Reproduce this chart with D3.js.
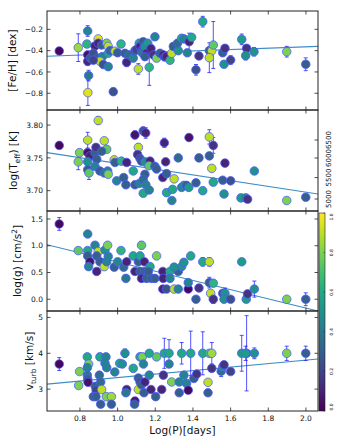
<!DOCTYPE html>
<html><head><meta charset="utf-8">
<script src="https://cdn.jsdelivr.net/npm/d3@7"></script>
<style>body{margin:0;background:#fff}svg{display:block;font-family:"DejaVu Sans",sans-serif}</style>
</head><body><svg id="c" width="340" height="445"></svg>
<script>
// rows: [logP, value, error, colour value 0..1]
const fehData = [
[0.690,-0.403,0.03,0.02],[0.791,-0.372,0.13,0.85],[0.841,-0.216,0.05,0.45],[0.837,-0.338,0.03,0.65],
[0.841,-0.440,0.03,0.05],[0.841,-0.500,0.04,0.10],[0.846,-0.634,0.05,0.40],[0.842,-0.794,0.12,0.95],
[0.855,-0.470,0.03,0.30],[0.897,-0.290,0.03,0.95],[0.880,-0.356,0.03,0.10],[0.897,-0.330,0.03,0.10],
[0.915,-0.347,0.03,0.30],[0.942,-0.330,0.03,0.80],[0.950,-0.360,0.03,0.90],[0.871,-0.425,0.03,0.25],
[0.894,-0.470,0.03,0.30],[0.919,-0.456,0.03,0.45],[0.906,-0.500,0.03,0.90],[0.924,-0.530,0.03,0.25],
[0.950,-0.550,0.03,0.45],[0.871,-0.490,0.03,0.20],[0.950,-0.425,0.03,0.60],[0.960,-0.400,0.03,0.35],
[0.986,-0.405,0.03,0.90],[0.977,-0.785,0.03,0.25],[1.000,-0.420,0.03,0.30],[1.018,-0.338,0.03,0.65],
[1.039,-0.425,0.03,0.30],[1.048,-0.510,0.04,0.10],[1.060,-0.440,0.03,0.35],[1.083,-0.470,0.03,0.45],
[1.092,-0.400,0.03,0.30],[1.100,-0.390,0.04,0.20],[1.110,-0.572,0.05,0.90],[1.115,-0.330,0.03,0.60],
[1.120,-0.360,0.04,0.10],[1.136,-0.316,0.03,0.30],[1.127,-0.400,0.03,0.25],[1.130,-0.420,0.03,0.40],
[1.145,-0.360,0.03,0.50],[1.154,-0.425,0.03,0.10],[1.145,-0.456,0.03,0.30],[1.168,-0.556,0.17,0.65],
[1.160,-0.330,0.03,0.55],[1.177,-0.380,0.03,0.10],[1.190,-0.440,0.03,0.15],[1.198,-0.270,0.03,0.45],
[1.207,-0.470,0.03,0.80],[1.225,-0.425,0.03,0.30],[1.242,-0.440,0.03,0.10],[1.250,-0.460,0.03,0.20],
[1.260,-0.456,0.03,0.10],[1.278,-0.490,0.03,0.65],[1.287,-0.425,0.03,0.90],[1.296,-0.360,0.03,0.30],
[1.322,-0.400,0.03,0.50],[1.318,-0.330,0.03,0.35],[1.340,-0.284,0.03,0.60],[1.352,-0.290,0.03,0.45],
[1.380,-0.316,0.08,0.10],[1.393,-0.275,0.03,0.60],[1.370,-0.420,0.03,0.45],[1.452,-0.128,0.05,0.60],
[1.432,-0.450,0.03,0.15],[1.416,-0.580,0.05,0.25],[1.487,-0.400,0.03,0.30],[1.500,-0.400,0.03,0.90],
[1.508,-0.347,0.22,0.75],[1.487,-0.466,0.14,0.90],[1.558,-0.420,0.03,0.30],[1.570,-0.378,0.03,0.15],
[1.565,-0.528,0.03,0.50],[1.600,-0.488,0.04,0.20],[1.659,-0.294,0.05,0.55],[1.685,-0.378,0.03,0.15],
[1.680,-0.447,0.04,0.50],[1.724,-0.410,0.04,0.50],[1.898,-0.410,0.05,0.80],[1.999,-0.528,0.06,0.30]
];
const teffData = [
[0.690,3.769,0.003,0.02],[0.798,3.758,0.004,0.80],[0.791,3.744,0.012,0.80],[0.841,3.777,0.012,0.90],
[0.841,3.758,0.004,0.05],[0.853,3.753,0.004,0.10],[0.841,3.744,0.004,0.50],[0.841,3.732,0.004,0.30],
[0.848,3.727,0.010,0.75],[0.880,3.758,0.004,0.30],[0.885,3.766,0.004,0.15],[0.897,3.807,0.006,0.90],
[0.929,3.776,0.005,0.90],[0.942,3.763,0.004,0.75],[0.915,3.760,0.004,0.30],[0.889,3.748,0.004,0.30],
[0.880,3.737,0.004,0.45],[0.906,3.730,0.004,0.30],[0.929,3.727,0.004,0.40],[0.947,3.730,0.004,0.45],
[0.950,3.725,0.004,0.80],[0.982,3.747,0.004,0.90],[0.986,3.743,0.004,0.30],[1.020,3.745,0.004,0.65],
[1.048,3.743,0.004,0.10],[0.995,3.715,0.004,0.45],[1.032,3.720,0.004,0.30],[1.044,3.709,0.004,0.30],
[1.083,3.730,0.004,0.60],[1.092,3.785,0.006,0.05],[1.136,3.791,0.006,0.25],[1.149,3.788,0.008,0.10],
[1.110,3.766,0.006,0.90],[1.106,3.755,0.004,0.15],[1.119,3.749,0.004,0.25],[1.127,3.745,0.004,0.25],
[1.145,3.744,0.004,0.50],[1.172,3.745,0.004,0.10],[1.166,3.738,0.004,0.75],[1.145,3.725,0.004,0.30],
[1.198,3.737,0.004,0.30],[1.207,3.733,0.004,0.30],[1.092,3.709,0.004,0.30],[1.115,3.711,0.004,0.45],
[1.136,3.717,0.004,0.35],[1.150,3.709,0.004,0.45],[1.136,3.696,0.004,0.60],[1.168,3.701,0.004,0.45],
[1.240,3.720,0.004,0.10],[1.248,3.773,0.007,0.10],[1.255,3.744,0.004,0.10],[1.260,3.726,0.004,0.30],
[1.300,3.718,0.004,0.90],[1.260,3.697,0.004,0.60],[1.292,3.702,0.004,0.60],[1.288,3.685,0.004,0.45],
[1.322,3.750,0.004,0.35],[1.340,3.705,0.004,0.45],[1.352,3.708,0.004,0.50],[1.366,3.708,0.004,0.30],
[1.378,3.705,0.005,0.55],[1.379,3.781,0.005,0.05],[1.416,3.712,0.004,0.30],[1.432,3.750,0.004,0.30],
[1.452,3.700,0.004,0.60],[1.487,3.753,0.004,0.30],[1.487,3.782,0.011,0.90],[1.508,3.769,0.012,0.15],
[1.500,3.734,0.005,0.90],[1.570,3.742,0.004,0.10],[1.508,3.713,0.004,0.60],[1.558,3.716,0.004,0.30],
[1.600,3.715,0.004,0.25],[1.726,3.730,0.004,0.50],[1.565,3.695,0.004,0.50],[1.655,3.689,0.005,0.55],
[1.680,3.689,0.004,0.45],[1.690,3.687,0.004,0.15],[1.898,3.685,0.005,0.80],[1.999,3.690,0.004,0.30]
];
const loggData = [
[0.690,1.408,0.12,0.02],[0.791,0.910,0.06,0.75],[0.841,1.220,0.05,0.45],[0.841,0.910,0.05,0.60],
[0.841,0.810,0.05,0.30],[0.853,0.700,0.05,0.05],[0.846,0.610,0.05,0.45],[0.880,1.010,0.05,0.45],
[0.897,0.890,0.05,0.90],[0.889,0.810,0.05,0.30],[0.906,0.700,0.05,0.30],[0.929,0.610,0.07,0.90],
[0.889,0.520,0.06,0.10],[0.933,0.920,0.05,0.50],[0.947,1.010,0.05,0.80],[0.950,0.800,0.05,0.45],
[0.942,0.700,0.05,0.45],[0.982,0.600,0.05,0.30],[1.000,0.700,0.05,0.45],[1.018,0.910,0.05,0.65],
[1.032,0.600,0.05,0.35],[1.048,0.700,0.05,0.10],[1.044,0.390,0.05,0.40],[1.083,0.810,0.05,0.60],
[1.092,0.520,0.05,0.10],[1.110,0.700,0.05,0.30],[1.127,1.010,0.07,0.75],[1.119,0.810,0.05,0.60],
[1.142,0.700,0.05,0.10],[1.119,0.520,0.06,0.30],[1.145,0.520,0.06,0.30],[1.172,0.610,0.05,0.60],
[1.127,0.390,0.06,0.10],[1.154,0.390,0.06,0.30],[1.180,0.390,0.06,0.30],[1.163,0.520,0.05,0.30],
[1.207,0.810,0.05,0.80],[1.198,0.390,0.05,0.30],[1.240,0.520,0.05,0.10],[1.242,0.390,0.06,0.10],
[1.278,0.520,0.05,0.60],[1.278,0.390,0.05,0.45],[1.240,0.190,0.05,0.10],[1.260,0.190,0.05,0.25],
[1.300,0.190,0.05,0.90],[1.322,0.190,0.05,0.45],[1.322,0.520,0.05,0.30],[1.300,0.600,0.05,0.50],
[1.340,0.610,0.05,0.50],[1.352,0.690,0.05,0.50],[1.388,0.810,0.06,0.60],[1.452,0.700,0.08,0.60],
[1.487,0.700,0.08,0.90],[1.659,0.700,0.05,0.55],[1.375,0.190,0.05,0.02],[1.432,0.210,0.05,0.15],
[1.416,0.000,0.05,0.30],[1.375,0.310,0.05,0.45],[1.487,0.310,0.10,0.30],[1.508,0.300,0.05,0.65],
[1.494,0.110,0.06,0.90],[1.508,0.000,0.08,0.15],[1.558,0.110,0.05,0.30],[1.570,0.110,0.10,0.50],
[1.565,0.000,0.05,0.50],[1.600,0.000,0.05,0.25],[1.683,0.000,0.05,0.55],[1.690,0.100,0.05,0.15],
[1.726,0.190,0.15,0.50],[1.898,0.000,0.05,0.80],[1.999,0.000,0.12,0.30]
];
const vturbData = [
[0.690,3.70,0.18,0.02],[0.798,3.49,0.05,0.80],[0.793,3.10,0.05,0.80],[0.839,3.90,0.06,0.60],
[0.846,3.70,0.06,0.80],[0.839,3.60,0.05,0.45],[0.839,3.39,0.05,0.40],[0.841,3.28,0.05,0.30],
[0.843,3.19,0.05,0.05],[0.881,3.08,0.05,0.30],[0.886,2.97,0.05,0.20],[0.871,2.79,0.05,0.30],
[0.885,2.79,0.05,0.30],[0.906,3.90,0.10,0.60],[0.938,3.90,0.06,0.45],[0.933,3.72,0.05,0.45],
[0.942,3.60,0.05,0.45],[0.903,3.39,0.05,0.35],[0.910,3.20,0.05,0.35],[0.915,2.99,0.05,0.90],
[0.910,2.58,0.05,0.30],[0.940,2.79,0.05,0.80],[0.967,2.79,0.05,0.85],[0.967,2.58,0.05,0.30],
[0.985,3.48,0.05,0.45],[1.011,3.72,0.05,0.60],[1.039,4.00,0.12,0.50],[1.025,3.70,0.05,0.50],
[1.048,2.99,0.05,0.10],[1.044,2.90,0.05,0.40],[1.083,3.58,0.05,0.60],[1.092,2.67,0.05,0.05],
[1.090,2.58,0.05,0.30],[1.119,3.90,0.10,0.60],[1.131,3.90,0.10,0.80],[1.110,3.31,0.05,0.30],
[1.119,3.20,0.05,0.25],[1.110,2.99,0.05,0.90],[1.127,3.12,0.05,0.30],[1.137,3.70,0.05,0.45],
[1.140,2.90,0.05,0.30],[1.145,3.20,0.05,0.10],[1.168,4.00,0.06,0.60],[1.168,3.39,0.05,0.45],
[1.177,2.99,0.05,0.10],[1.207,3.90,0.06,0.75],[1.202,2.79,0.05,0.30],[1.234,2.99,0.05,0.10],
[1.248,4.00,0.42,0.60],[1.243,3.39,0.05,0.15],[1.273,4.00,0.38,0.60],[1.273,3.70,0.05,0.45],
[1.287,3.20,0.05,0.80],[1.327,3.20,0.05,0.45],[1.340,4.00,0.30,0.60],[1.327,2.90,0.05,0.30],
[1.352,3.39,0.05,0.45],[1.366,3.16,0.05,0.45],[1.375,2.97,0.05,0.02],[1.388,4.00,0.62,0.60],
[1.405,3.30,0.05,0.30],[1.420,3.42,0.05,0.15],[1.452,4.00,0.60,0.60],[1.487,4.00,0.05,0.70],
[1.500,4.00,0.30,0.85],[1.480,2.90,0.05,0.30],[1.480,3.19,0.05,0.90],[1.500,3.58,0.05,0.15],
[1.550,3.50,0.15,0.35],[1.558,3.62,0.05,0.50],[1.565,3.68,0.05,0.15],[1.600,3.49,0.05,0.20],
[1.659,4.00,0.50,0.55],[1.685,4.00,1.05,0.20],[1.680,4.00,0.20,0.55],[1.726,4.00,0.15,0.50],
[1.898,4.00,0.20,0.80],[1.999,4.00,0.20,0.30]
];
const fitLogP = [0.625, 2.064];
const fehFit = [-0.452, -0.360];
const teffFit = [3.758, 3.695];
const loggFit = [1.02, -0.22];
const vturbFit = [3.14, 3.84];
const xTicks = [0.8, 1.0, 1.2, 1.4, 1.6, 1.8, 2.0];
const fehTicks = [-0.8, -0.6, -0.4, -0.2];
const teffTicks = [3.70, 3.75, 3.80];
const loggTicks = [0.0, 0.5, 1.0, 1.5];
const vturbTicks = [3, 4, 5];
const teffKTicks = [5000, 5500, 6000, 6500];
const cbarTicks = [0, 0.2, 0.4, 0.6, 0.8, 1.0];

const svg = d3.select("#c");
const L = 47, R = 318;
const x = d3.scaleLinear().domain([0.625, 2.064]).range([L, R]);
const color = d3.interpolateViridis;

const panels = [
  {data: fehData, fit: fehFit, dom: [-0.957, -0.028], top: 11, bot: 110, ticks: fehTicks, fmt: d3.format(".1f"), lx: 16},
  {data: teffData, fit: teffFit, dom: [3.669, 3.823], top: 110, bot: 211, ticks: teffTicks, fmt: d3.format(".2f"), lx: 17},
  {data: loggData, fit: loggFit, dom: [-0.22, 1.65], top: 211, bot: 311, ticks: loggTicks, fmt: d3.format(".1f"), lx: 21},
  {data: vturbData, fit: vturbFit, dom: [2.39, 5.18], top: 311, bot: 411, ticks: vturbTicks, fmt: d3.format("d"), lx: 33}
];

panels.forEach((p, i) => {
  const y = d3.scaleLinear().domain(p.dom).range([p.bot, p.top]);
  const g = svg.append("g");
  const cid = "clip" + i;
  svg.append("clipPath").attr("id", cid).append("rect")
    .attr("x", L).attr("y", p.top).attr("width", R - L).attr("height", p.bot - p.top);
  const inner = g.append("g").attr("clip-path", `url(#${cid})`);
  inner.append("path")
    .attr("d", d3.line()(fitLogP.map((v, k) => [x(v), y(p.fit[k])])))
    .attr("stroke", "#3d8cc4").attr("stroke-width", 1.1).attr("fill", "none");
  const eb = inner.append("g").attr("stroke", "#1a1aff").attr("stroke-opacity", 0.75).attr("stroke-width", 1);
  p.data.forEach(d => {
    const cx = x(d[0]), y1 = y(d[1] - d[2]), y2 = y(d[1] + d[2]);
    eb.append("line").attr("x1", cx).attr("x2", cx).attr("y1", y1).attr("y2", y2);
    eb.append("line").attr("x1", cx - 2).attr("x2", cx + 2).attr("y1", y1).attr("y2", y1);
    eb.append("line").attr("x1", cx - 2).attr("x2", cx + 2).attr("y1", y2).attr("y2", y2);
  });
  inner.append("g").selectAll("circle").data(p.data).join("circle")
    .attr("cx", d => x(d[0])).attr("cy", d => y(d[1])).attr("r", 4.3)
    .attr("fill", d => color(d[3]))
    .attr("stroke", "rgba(80,90,255,0.75)").attr("stroke-width", 1);
  g.append("rect").attr("x", L).attr("y", p.top).attr("width", R - L).attr("height", p.bot - p.top)
    .attr("fill", "none").attr("stroke", "#222").attr("stroke-width", 1);
  const tk = g.append("g").attr("stroke", "#222").attr("stroke-width", 0.8);
  xTicks.forEach(t => {
    tk.append("line").attr("x1", x(t)).attr("x2", x(t)).attr("y1", p.bot).attr("y2", p.bot - 3.5);
    tk.append("line").attr("x1", x(t)).attr("x2", x(t)).attr("y1", p.top).attr("y2", p.top + 3.5);
  });
  p.ticks.forEach(t => {
    tk.append("line").attr("x1", L).attr("x2", L + 3.5).attr("y1", y(t)).attr("y2", y(t));
    if (i !== 1) tk.append("line").attr("x1", R).attr("x2", R - 3.5).attr("y1", y(t)).attr("y2", y(t));
    g.append("text").attr("x", 43).attr("y", y(t)).attr("dy", "0.35em").attr("text-anchor", "end")
      .attr("font-size", 7.5).attr("fill", "#111").text(p.fmt(t));
  });
  const lab = g.append("text").attr("transform", `translate(${p.lx},${(p.top + p.bot) / 2}) rotate(-90)`)
    .attr("text-anchor", "middle").attr("font-size", 10.5).attr("fill", "#111");
  if (i === 0) lab.text("[Fe/H] [dex]");
  if (i === 1) { lab.append("tspan").text("log(T"); lab.append("tspan").attr("font-size", 7.5).attr("dy", 2.5).text("eff"); lab.append("tspan").attr("dy", -2.5).text(") [K]"); }
  if (i === 2) { lab.append("tspan").text("log(g) [cm/s"); lab.append("tspan").attr("font-size", 7.5).attr("dy", -4).text("2"); lab.append("tspan").attr("dy", 4).text("]"); }
  if (i === 3) { lab.append("tspan").text("v"); lab.append("tspan").attr("font-size", 7.5).attr("dy", 2.5).text("turb"); lab.append("tspan").attr("dy", -2.5).text(" [km/s]"); }

  if (i === 1) {
    // twin Teff axis (log-spaced) on the right
    const yk = d3.scaleLog().domain([5000, 6500]).range([199, 140]);
    teffKTicks.forEach(t => {
      tk.append("line").attr("x1", R).attr("x2", R - 3.5).attr("y1", yk(t)).attr("y2", yk(t));
      g.append("text").attr("transform", `translate(${R + 11},${yk(t)}) rotate(-90)`)
        .attr("text-anchor", "middle").attr("dy", "0.35em").attr("font-size", 7).attr("fill", "#111").text(t);
    });
  }
});

xTicks.forEach(t => {
  svg.append("text").attr("x", x(t)).attr("y", 421).attr("text-anchor", "middle")
    .attr("font-size", 7.5).attr("fill", "#111").text(d3.format(".1f")(t));
});
svg.append("text").attr("x", (L + R) / 2).attr("y", 434).attr("text-anchor", "middle")
  .attr("font-size", 10.5).attr("fill", "#111").text("Log(P)[days]");

const cb = {x: 319, y: 213, w: 6, h: 198};
const defs = svg.append("defs");
const grad = defs.append("linearGradient").attr("id", "vir").attr("x1", 0).attr("x2", 0).attr("y1", 1).attr("y2", 0);
d3.range(0, 1.0001, 0.1).forEach(s => grad.append("stop").attr("offset", s).attr("stop-color", color(s)));
svg.append("rect").attr("x", cb.x).attr("y", cb.y).attr("width", cb.w).attr("height", cb.h)
  .attr("fill", "url(#vir)").attr("stroke", "#222").attr("stroke-width", 0.6);
const cy = d3.scaleLinear().domain([0, 1]).range([cb.y + cb.h, cb.y]);
cbarTicks.forEach(t => {
  svg.append("line").attr("x1", cb.x + cb.w - 1.5).attr("x2", cb.x + cb.w).attr("y1", cy(t)).attr("y2", cy(t))
    .attr("stroke", "#222").attr("stroke-width", 0.5);
  const yy = Math.min(Math.max(cy(t), cb.y + 4), cb.y + cb.h - 4);
  svg.append("text").attr("transform", `translate(${cb.x + cb.w + 6},${yy}) rotate(-90)`)
    .attr("text-anchor", "middle").attr("dy", "0.35em").attr("font-size", 4.5).attr("fill", "#111")
    .text(d3.format(".1f")(t));
});
</script></body></html>
